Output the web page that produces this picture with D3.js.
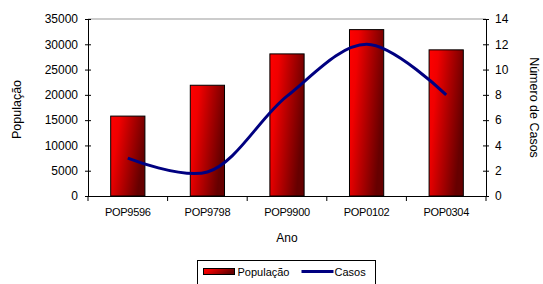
<!DOCTYPE html>
<html>
<head>
<meta charset="utf-8">
<script src="https://cdn.jsdelivr.net/npm/d3@7"></script>
<style>
  body { margin: 0; background: #fff; }
  svg { font-family: 'Liberation Sans', Arial, sans-serif; }
</style>
</head>
<body>
<script>
const categories = ['POP9596', 'POP9798', 'POP9900', 'POP0102', 'POP0304']
const populacao = [15800, 21900, 28100, 32900, 28900]
const casos = [3.0, 1.9, 7.9, 12.0, 8.0]
const leftTicks = [0, 5000, 10000, 15000, 20000, 25000, 30000, 35000]
const rightTicks = [0, 2, 4, 6, 8, 10, 12, 14]

const width = 543
const height = 284
const margin = { left: 88, right: 57, top: 19, bottom: 88 }

const svg = d3
  .select('body')
  .append('svg')
  .attr('width', width)
  .attr('height', height)
  .style('font-size', '12px')

const x = d3
  .scaleBand()
  .domain(categories)
  .range([margin.left, width - margin.right])
  .paddingInner(0.57)
  .paddingOuter(0.285)

const yLeft = d3
  .scaleLinear()
  .domain([0, 35000])
  .range([height - margin.bottom, margin.top])

const yRight = d3
  .scaleLinear()
  .domain([0, 14])
  .range([height - margin.bottom, margin.top])

const grad = svg
  .append('defs')
  .append('linearGradient')
  .attr('id', 'barGrad')
  .attr('x1', 0)
  .attr('y1', 0)
  .attr('x2', 1)
  .attr('y2', 0.35)
grad.append('stop').attr('offset', '0%').attr('stop-color', '#ff0000')
grad.append('stop').attr('offset', '25%').attr('stop-color', '#f00000')
grad.append('stop').attr('offset', '100%').attr('stop-color', '#660000')

// top gridline
svg
  .append('line')
  .attr('x1', margin.left)
  .attr('x2', width - margin.right)
  .attr('y1', yLeft(35000))
  .attr('y2', yLeft(35000))
  .attr('stroke', '#999')

// bars
svg
  .selectAll('rect.bar')
  .data(populacao)
  .join('rect')
  .attr('class', 'bar')
  .attr('x', (d, i) => x(categories[i]))
  .attr('y', (d) => yLeft(d))
  .attr('width', x.bandwidth())
  .attr('height', (d) => yLeft(0) - yLeft(d))
  .attr('fill', 'url(#barGrad)')
  .attr('stroke', '#000')
  .attr('stroke-width', 1)

// line
const line = d3
  .line()
  .x((d, i) => x(categories[i]) + x.bandwidth() / 2)
  .y((d) => yRight(d))
  .curve(d3.curveCatmullRom.alpha(0.5))

svg
  .append('path')
  .datum(casos)
  .attr('d', line)
  .attr('fill', 'none')
  .attr('stroke', '#000080')
  .attr('stroke-width', 3)

// axes
const leftAxis = d3
  .axisLeft(yLeft)
  .tickValues(leftTicks)
  .tickFormat(d3.format('d'))
  .tickSizeOuter(0)
const gl = svg
  .append('g')
  .attr('transform', `translate(${margin.left},0)`)
  .call(leftAxis)
gl.selectAll('.tick line').attr('x1', -3).attr('x2', 3)
gl.selectAll('.tick text').attr('x', -10)

const rightAxis = d3
  .axisRight(yRight)
  .tickValues(rightTicks)
  .tickSizeOuter(0)
const gr = svg
  .append('g')
  .attr('transform', `translate(${width - margin.right},0)`)
  .call(rightAxis)
gr.selectAll('.tick line').attr('x1', -3).attr('x2', 3)
gr.selectAll('.tick text').attr('x', 9)

const bottomAxis = d3.axisBottom(x).tickSize(0).tickPadding(12)
const gb = svg
  .append('g')
  .attr('transform', `translate(0,${height - margin.bottom})`)
  .call(bottomAxis)
gb.selectAll('.tick text').attr('class', 'cat')

// category separator ticks
const step = x.step()
gb.selectAll('line.sep')
  .data(d3.range(categories.length + 1))
  .join('line')
  .attr('class', 'sep')
  .attr('x1', (d) => margin.left + d * step)
  .attr('x2', (d) => margin.left + d * step)
  .attr('y1', 0)
  .attr('y2', 5)
  .attr('stroke', '#000')

svg.selectAll('.domain').attr('stroke', '#000')
svg.selectAll('.tick line').attr('stroke', '#000')
svg.selectAll('.tick text').attr('fill', '#000').style('font-size', '12px')
svg.selectAll('text.cat').style('font-size', '11px').style('letter-spacing', '-0.3px')

// axis titles
svg
  .append('text')
  .attr('transform', `translate(21,${(margin.top + height - margin.bottom) / 2 + 2}) rotate(-90)`)
  .attr('text-anchor', 'middle')
  .style('font-size', '12.5px')
  .text('População')

svg
  .append('text')
  .attr('transform', `translate(530,${(margin.top + height - margin.bottom) / 2}) rotate(90)`)
  .attr('text-anchor', 'middle')
  .style('font-size', '12.5px')
  .text('Número de Casos')

svg
  .append('text')
  .attr('x', (margin.left + width - margin.right) / 2)
  .attr('y', 242)
  .attr('text-anchor', 'middle')
  .text('Ano')

// legend
const legend = svg
  .append('g')
  .attr('transform', 'translate(197.5,260.5)')
  .style('font-size', '11px')
legend
  .append('rect')
  .attr('width', 178)
  .attr('height', 30)
  .attr('fill', '#fff')
  .attr('stroke', '#000')
legend
  .append('rect')
  .attr('x', 6)
  .attr('y', 8)
  .attr('width', 31)
  .attr('height', 6)
  .attr('fill', 'url(#barGrad)')
  .attr('stroke', '#000')
legend.append('text').attr('x', 40).attr('y', 15).text('População')
legend
  .append('line')
  .attr('x1', 104)
  .attr('x2', 136)
  .attr('y1', 11)
  .attr('y2', 11)
  .attr('stroke', '#000080')
  .attr('stroke-width', 3)
legend.append('text').attr('x', 137).attr('y', 15).text('Casos')
</script>
</body>
</html>
